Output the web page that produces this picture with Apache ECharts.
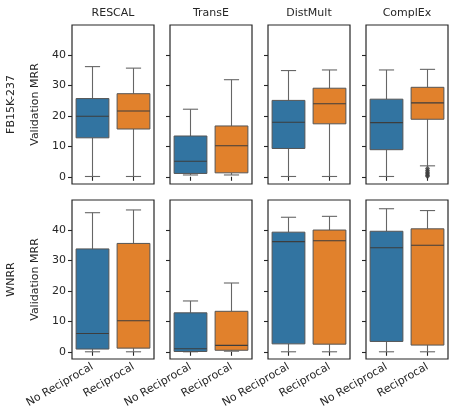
<!DOCTYPE html>
<html>
<head>
<meta charset="utf-8">
<script src="https://cdn.jsdelivr.net/npm/echarts@6/dist/echarts.min.js"></script>
<style>
  html, body { margin: 0; padding: 0; background: #fff; }
  #chart { width: 452px; height: 416px; }
</style>
</head>
<body>
<div id="chart"></div>
<script>
// panels: columns are models, rows are datasets
const models = ["RESCAL", "TransE", "DistMult", "ComplEx"];
const datasets = ["FB15K-237", "WNRR"];
const categories = ["No Reciprocal", "Reciprocal"];
const yTicks = [0, 10, 20, 30, 40];

// [min, q1, median, q3, max] per model, for No Reciprocal / Reciprocal
const fbNoRecip = [
  [0.1, 12.8, 19.9, 25.7, 36.2],
  [0.6, 1.1, 5.1, 13.4, 22.2],
  [0.1, 9.3, 17.9, 25.1, 34.9],
  [0.1, 8.9, 17.8, 25.5, 35.1]
];
const fbRecip = [
  [0.1, 15.7, 21.6, 27.3, 35.7],
  [0.6, 1.3, 10.2, 16.7, 31.9],
  [0.1, 17.4, 24.0, 29.1, 35.1],
  [3.6, 18.9, 24.3, 29.4, 35.3]
];
const wnNoRecip = [
  [0.0, 0.9, 6.0, 33.8, 45.7],
  [0.0, 0.1, 1.0, 12.8, 16.7],
  [0.0, 2.6, 36.2, 39.3, 44.2],
  [0.0, 3.4, 34.2, 39.6, 47.0]
];
const wnRecip = [
  [0.0, 1.2, 10.2, 35.6, 46.6],
  [0.2, 0.5, 2.1, 13.3, 22.6],
  [0.0, 2.5, 36.5, 40.0, 44.5],
  [0.0, 2.2, 35.0, 40.4, 46.4]
];
// ComplEx / FB15K-237 / Reciprocal outliers
const complexFbOutliers = [2.7, 2.1, 1.5, 1.0, 0.5, 0.2];

const boxColors = ["#3274a1", "#e1812c"];
const lineGray = "#666666";
const medianGray = "#3d3d3d";
const ink = "#262626";
const font = "DejaVu Sans";

const colLeft = [72, 170, 268, 366];
const rowTop = [25, 200];
const panelW = 82, panelH = 159;

function renderBox(params, api) {
  const x = api.value(0);
  const pMin = api.coord([x, api.value(1)]);
  const pQ1 = api.coord([x, api.value(2)]);
  const pMed = api.coord([x, api.value(3)]);
  const pQ3 = api.coord([x, api.value(4)]);
  const pMax = api.coord([x, api.value(5)]);
  const band = api.size([1, 0])[0];
  const bw = band * 0.8, cw = band * 0.37;
  const cx = pMed[0];
  const lineStyle = { stroke: lineGray, lineWidth: 1.1 };
  return {
    type: "group",
    children: [
      { type: "line", shape: { x1: cx, y1: pQ3[1], x2: cx, y2: pMax[1] }, style: lineStyle },
      { type: "line", shape: { x1: cx, y1: pQ1[1], x2: cx, y2: pMin[1] }, style: lineStyle },
      { type: "line", shape: { x1: cx - cw / 2, y1: pMax[1], x2: cx + cw / 2, y2: pMax[1] }, style: lineStyle },
      { type: "line", shape: { x1: cx - cw / 2, y1: pMin[1], x2: cx + cw / 2, y2: pMin[1] }, style: lineStyle },
      {
        type: "rect",
        shape: { x: cx - bw / 2, y: pQ3[1], width: bw, height: pQ1[1] - pQ3[1] },
        style: { fill: boxColors[x], stroke: "#555555", lineWidth: 1 }
      },
      { type: "line", shape: { x1: cx - bw / 2, y1: pMed[1], x2: cx + bw / 2, y2: pMed[1] }, style: { stroke: medianGray, lineWidth: 1.1 } }
    ]
  };
}

const grid = [], xAxis = [], yAxis = [], series = [], graphic = [];
const rowData = [[fbNoRecip, fbRecip], [wnNoRecip, wnRecip]];

for (let r = 0; r < 2; r++) {
  for (let c = 0; c < 4; c++) {
    const i = r * 4 + c;
    grid.push({
      left: colLeft[c], top: rowTop[r], width: panelW, height: panelH,
      show: true, borderColor: ink, borderWidth: 1.2, backgroundColor: "transparent"
    });
    xAxis.push({
      type: "category", gridIndex: i, data: categories,
      axisLine: { show: false },
      axisTick: { show: true, alignWithLabel: true, length: 4, lineStyle: { color: ink, width: 1.1 } },
      axisLabel: {
        show: r === 1, rotate: 30, fontSize: 11, color: ink, fontFamily: font, margin: 7,
        interval: 0
      },
      splitLine: { show: false }
    });
    yAxis.push({
      type: "value", gridIndex: i, min: -2.37, max: 49.87,
      name: c === 0 ? "Validation MRR" : "",
      nameLocation: "middle", nameGap: 31, nameRotate: 90,
      nameTextStyle: { fontSize: 11, color: ink, fontFamily: font },
      axisLine: { show: false },
      axisTick: { show: true, length: 4, customValues: yTicks, lineStyle: { color: ink, width: 1.1 } },
      axisLabel: { show: c === 0, customValues: yTicks, fontSize: 11, color: ink, fontFamily: font, margin: 6 },
      splitLine: { show: false }
    });
    const data = [0, 1].map(k => [k].concat(rowData[r][k][c]));
    series.push({
      type: "custom", xAxisIndex: i, yAxisIndex: i,
      renderItem: renderBox,
      encode: { x: 0, y: [1, 2, 3, 4, 5] },
      data: data, silent: true
    });
  }
}

series.push({
  type: "scatter", xAxisIndex: 3, yAxisIndex: 3,
  symbol: "diamond", symbolSize: [5, 6],
  itemStyle: { color: "#3d3d3d" },
  data: complexFbOutliers.map(v => [1, v]), silent: true
});

models.forEach((m, c) => {
  graphic.push({
    type: "text", x: colLeft[c] + panelW / 2, y: 13,
    style: { text: m, font: "11px '" + font + "'", fill: ink, textAlign: "center", textVerticalAlign: "middle" }
  });
});
datasets.forEach((d, r) => {
  graphic.push({
    type: "text", x: 11, y: rowTop[r] + panelH / 2, rotation: Math.PI / 2,
    style: { text: d, font: "11px '" + font + "'", fill: ink, textAlign: "center", textVerticalAlign: "middle" }
  });
});

const chart = echarts.init(document.getElementById("chart"), null, { renderer: "canvas" });
chart.setOption({
  animation: false,
  backgroundColor: "#ffffff",
  textStyle: { fontFamily: font },
  grid, xAxis, yAxis, series, graphic
});
</script>
</body>
</html>
